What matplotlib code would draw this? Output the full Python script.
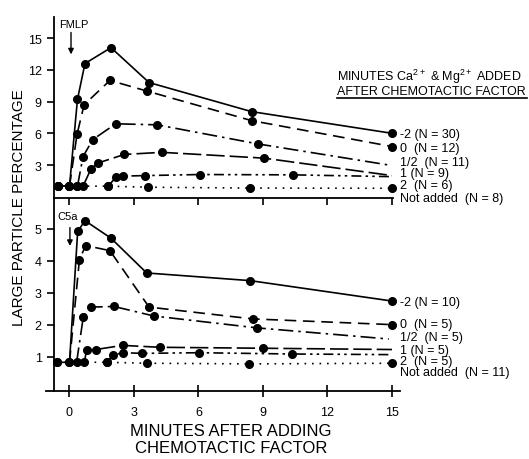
import matplotlib
matplotlib.use("Agg")
import matplotlib.pyplot as plt
from matplotlib.lines import Line2D

plt.rcParams['font.family'] = ['Liberation Sans', 'DejaVu Sans']
plt.rcParams['mathtext.default'] = 'regular'

# ---- FMLP panel (top) ----
fm_m2_t = [-0.55, 0, 0.37, 0.72, 1.93, 3.7, 8.47, 15]
fm_m2_v = [1.0, 1.0, 9.2, 12.6, 14.1, 10.8, 8.05, 6.0]
fm_0_t = [0, 0.35, 0.68, 1.88, 3.59, 8.47, 15]
fm_0_v = [1.0, 5.9, 8.7, 11.0, 10.0, 7.2, 4.75]
fm_half_t = [0.37, 0.63, 1.08, 2.15, 4.08, 8.75, 15]
fm_half_v = [1.0, 3.8, 5.4, 6.9, 6.8, 5.0, 2.95]
fm_1_t = [-0.55, 0, 0.37, 0.63, 1.0, 1.34, 2.55, 4.29, 9.05, 15]
fm_1_v = [1.0, 1.0, 1.0, 1.0, 2.64, 3.2, 4.0, 4.2, 3.65, 2.0]
fm_2_t = [1.8, 2.16, 2.5, 3.51, 6.07, 10.38, 15]
fm_2_v = [1.0, 1.86, 1.95, 2.0, 2.1, 2.07, 1.9]
fm_na_t = [-0.55, 1.8, 3.64, 8.4, 15]
fm_na_v = [1.0, 1.0, 0.9, 0.82, 0.8]
fm_labels = ['-2 (N = 30)', '0  (N = 12)', '1/2  (N = 11)', '1 (N = 9)',
             '2  (N = 6)', 'Not added  (N = 8)']
fm_label_y = [5.94, 4.58, 3.26, 2.24, 1.1, -0.15]

# ---- C5a panel (bottom) ----
c5_m2_t = [-0.58, 0, 0.38, 0.72, 1.93, 3.59, 8.4, 15]
c5_m2_v = [0.82, 0.82, 4.92, 5.26, 4.71, 3.62, 3.38, 2.74]
c5_0_t = [0, 0.46, 0.75, 1.88, 3.7, 8.52, 15]
c5_0_v = [0.82, 4.03, 4.48, 4.32, 2.55, 2.18, 2.0]
c5_half_t = [0.33, 0.64, 1.0, 2.07, 3.93, 8.7, 14.85]
c5_half_v = [0.82, 2.23, 2.55, 2.57, 2.27, 1.9, 1.55]
c5_1_t = [0.69, 0.8, 1.22, 2.47, 4.21, 9.01, 15]
c5_1_v = [0.82, 1.22, 1.22, 1.35, 1.29, 1.26, 1.22]
c5_2_t = [1.76, 2.01, 2.5, 3.39, 6.04, 10.33, 15]
c5_2_v = [0.82, 1.05, 1.12, 1.1, 1.12, 1.08, 1.06]
c5_na_t = [-0.58, 1.76, 3.59, 8.35, 15]
c5_na_v = [0.82, 0.82, 0.79, 0.77, 0.79]
c5_labels = ['-2 (N = 10)', '0  (N = 5)', '1/2  (N = 5)', '1 (N = 5)',
             '2  (N = 5)', 'Not added  (N = 11)']
c5_label_y = [2.7, 2.02, 1.6, 1.21, 0.87, 0.51]

x_ticks = [0, 3, 6, 9, 12, 15]

# line styles: -2, 0, 1/2, 1, 2, not added
styles = ['-', (0, (7, 4)), (0, (9, 3, 1.5, 3)), (0, (11, 3)),
          (0, (6, 2.5, 1.5, 2.5, 1.5, 2.5)), (0, (1, 3.5))]
end_marker = [True, True, False, False, False, True]

W, H = 529, 460
fig = plt.figure(figsize=(W / 100, H / 100), dpi=100)
ax1 = fig.add_axes([45.7 / W, 1 - 199 / H, (399.5 - 45.7) / W, 181 / H])
ax2 = fig.add_axes([45.7 / W, 1 - 392 / H, (399.5 - 45.7) / W, 193 / H])
ax2.patch.set_visible(False)  # so the top panel ticks show through
spine_x = -0.744


def draw(ax, series, labels, label_y):
    for (t, v), ls, em in zip(series, styles, end_marker):
        me = list(range(len(t))) if em else list(range(len(t) - 1))
        ax.plot(t, v, color='black', lw=1.2, ls=ls, marker='o', ms=5.5,
                markevery=me, clip_on=False)
    for lab, y in zip(labels, label_y):
        ax.text(15.35, y, lab, fontsize=9, va='center', ha='left',
                clip_on=False)
    ax.spines['top'].set_visible(False)
    ax.spines['right'].set_visible(False)
    ax.spines['left'].set_position(('data', spine_x))
    for s in ('left', 'bottom'):
        ax.spines[s].set_linewidth(1.3)
    ax.set_xlim(-1.107, 15.35)
    ax.set_xticks(x_ticks)
    ax.tick_params(axis='y', direction='out', length=5, width=1.2, labelsize=9)


draw(ax1, [(fm_m2_t, fm_m2_v), (fm_0_t, fm_0_v), (fm_half_t, fm_half_v),
           (fm_1_t, fm_1_v), (fm_2_t, fm_2_v), (fm_na_t, fm_na_v)],
     fm_labels, fm_label_y)
draw(ax2, [(c5_m2_t, c5_m2_v), (c5_0_t, c5_0_v), (c5_half_t, c5_half_v),
           (c5_1_t, c5_1_v), (c5_2_t, c5_2_v), (c5_na_t, c5_na_v)],
     c5_labels, c5_label_y)

ax1.set_ylim(-0.12, 17.0)
ax1.set_yticks([3, 6, 9, 12, 15])
ax1.spines['bottom'].set_bounds(spine_x, 15.05)
ax1.tick_params(axis='x', direction='out', length=5, width=1.2,
                labelbottom=False)

ax2.set_ylim(-0.08, 5.97)
ax2.set_yticks([1, 2, 3, 4, 5])
ax2.tick_params(axis='x', direction='inout', length=9, width=1.2, labelsize=9,
                pad=6)

# agent markers
ax1.text(-0.47, 16.3, 'FMLP', fontsize=8, va='center', ha='left')
ax1.annotate('', xy=(0.07, 13.2), xytext=(0.07, 15.8),
             arrowprops=dict(arrowstyle='-|>', color='black', lw=1,
                             mutation_scale=8))
ax2.text(-0.55, 5.42, 'C5a', fontsize=8, va='center', ha='left')
ax2.annotate('', xy=(0.02, 4.38), xytext=(0.02, 5.13),
             arrowprops=dict(arrowstyle='-|>', color='black', lw=1,
                             mutation_scale=8))

# header of the legend labels
fig.text(337 / W, 1 - 77 / H, 'MINUTES Ca$^{2+}$ & Mg$^{2+}$ ADDED',
         fontsize=9, va='center', ha='left')
fig.text(337 / W, 1 - 92 / H, 'AFTER CHEMOTACTIC FACTOR',
         fontsize=9, va='center', ha='left')
fig.add_artist(Line2D([337 / W, 527 / W], [1 - 99 / H] * 2, color='black',
                      lw=1.2))

fig.text(19 / W, 1 - 208 / H, 'LARGE PARTICLE PERCENTAGE', fontsize=11,
         rotation=90, va='center', ha='center')
fig.text(231 / W, 1 - 440 / H, 'MINUTES AFTER ADDING\nCHEMOTACTIC FACTOR',
         fontsize=12, va='center', ha='center', linespacing=1.15)

fig.savefig('out.png', dpi=100)
